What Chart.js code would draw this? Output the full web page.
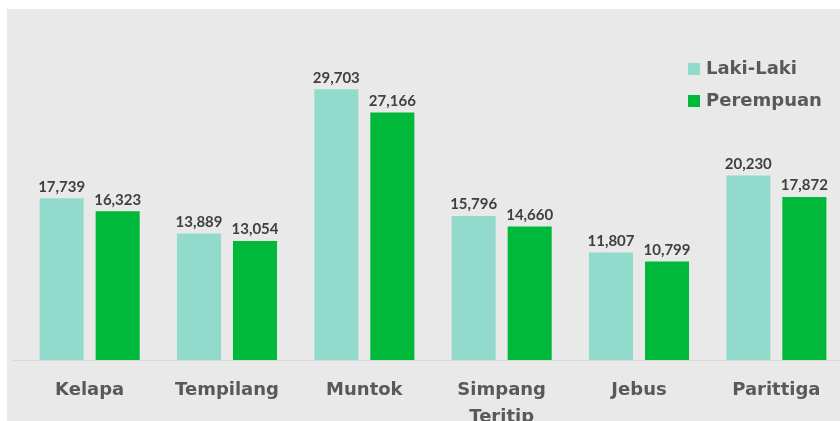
<!DOCTYPE html>
<html>
<head>
<meta charset="utf-8">
<script src="https://cdn.jsdelivr.net/npm/chart.js@4"></script>
<style>
  html, body { margin: 0; padding: 0; background: #ffffff; overflow: hidden; width: 840px; height: 421px; }
  #wrap { position: absolute; left: 7px; top: 9px; width: 838px; height: 412px; background: #e9e9e9; }
</style>
</head>
<body>
<div id="wrap"><canvas id="popChart" width="838" height="412"></canvas></div>
<script>
// kecamatan names
var categories = ['Kelapa', 'Tempilang', 'Muntok', ['Simpang', 'Teritip'], 'Jebus', 'Parittiga'];
// population per sex
var lakiLaki = [17739, 13889, 29703, 15796, 11807, 20230];
var perempuan = [16323, 13054, 27166, 14660, 10799, 17872];

var LABEL_FONT = "'DejaVu Sans', sans-serif";
var NUM_FONT = "'Lato', 'DejaVu Sans', sans-serif";

// draws the number above each bar
var valueLabels = {
    id: 'valueLabels',
    afterDatasetsDraw: function (chart) {
        var ctx = chart.ctx;
        ctx.save();
        ctx.font = 'bold 15px ' + NUM_FONT;
        ctx.fillStyle = '#404040';
        ctx.textAlign = 'center';
        ctx.textBaseline = 'bottom';
        chart.data.datasets.forEach(function (ds, i) {
            chart.getDatasetMeta(i).data.forEach(function (bar, j) {
                ctx.fillText(ds.data[j].toLocaleString('en-US'), bar.x, bar.y - 4);
            });
        });
        ctx.restore();
    }
};

// legend stacked in the top right corner
var cornerLegend = {
    id: 'cornerLegend',
    afterDraw: function (chart) {
        var ctx = chart.ctx;
        ctx.save();
        ctx.font = 'bold 18px ' + LABEL_FONT;
        ctx.textBaseline = 'middle';
        ctx.textAlign = 'left';
        chart.data.datasets.forEach(function (ds, i) {
            var y = 60 + i * 32;
            ctx.fillStyle = ds.backgroundColor;
            ctx.fillRect(681, y - 6, 12, 12);
            ctx.fillStyle = '#595959';
            ctx.fillText(ds.label, 699, y);
        });
        // axis line reaches a little left of the first category
        var area = chart.chartArea;
        ctx.strokeStyle = '#d9d9d9';
        ctx.lineWidth = 1;
        ctx.beginPath();
        ctx.moveTo(6, area.bottom + 0.5);
        ctx.lineTo(area.left, area.bottom + 0.5);
        ctx.stroke();
        ctx.restore();
    }
};

var ctx = document.getElementById('popChart').getContext('2d');
new Chart(ctx, {
    type: 'bar',
    data: {
        labels: categories,
        datasets: [{
            label: 'Laki-Laki',
            data: lakiLaki,
            backgroundColor: '#92dbcc',
            borderWidth: 0
        }, {
            label: 'Perempuan',
            data: perempuan,
            backgroundColor: '#00b93b',
            borderWidth: 0
        }]
    },
    options: {
        responsive: false,
        animation: false,
        layout: { padding: { left: 14, right: 0, top: 32, bottom: 0 } },
        datasets: {
            bar: { categoryPercentage: 0.816, barPercentage: 0.786 }
        },
        plugins: {
            legend: { display: false },
            tooltip: { enabled: false }
        },
        scales: {
            x: {
                grid: { display: false, drawTicks: false },
                border: { display: true, color: '#d9d9d9', width: 1 },
                ticks: {
                    color: '#595959',
                    padding: 17,
                    maxRotation: 0,
                    autoSkip: false,
                    font: { family: LABEL_FONT, size: 18, weight: 'bold', lineHeight: 1.5 }
                },
                afterFit: function (scale) { scale.height = 61; }
            },
            y: {
                display: false,
                min: 0,
                max: 35000
            }
        }
    },
    plugins: [valueLabels, cornerLegend]
});
</script>
</body>
</html>
